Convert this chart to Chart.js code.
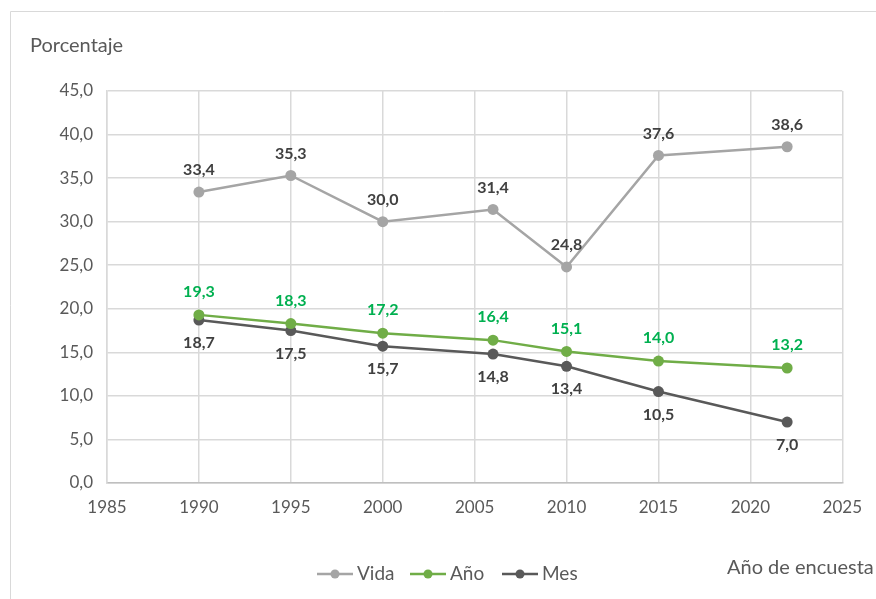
<!DOCTYPE html>
<html>
<head>
<meta charset="utf-8">
<script src="https://cdn.jsdelivr.net/npm/chart.js@4"></script>
<style>
  body { margin: 0; background: #fff; }
  #wrap { width: 876px; height: 599px; position: relative; }
</style>
</head>
<body>
<div id="wrap"><canvas id="grafico" width="876" height="599"></canvas></div>
<script>
const anios = [1990, 1995, 2000, 2006, 2010, 2015, 2022];
const vida = [33.4, 35.3, 30.0, 31.4, 24.8, 37.6, 38.6];
const anio = [19.3, 18.3, 17.2, 16.4, 15.1, 14.0, 13.2];
const mes = [18.7, 17.5, 15.7, 14.8, 13.4, 10.5, 7.0];
const nombres = ["Vida", "Año", "Mes"];

const FUENTE = "Lato, 'Open Sans', sans-serif";
const coma = (v) => v.toFixed(1).replace(".", ",");
const puntos = (vals) => anios.map((x, i) => ({ x: x, y: vals[i] }));

// etiquetas de datos, marco y leyenda dibujados a mano
const extras = {
  id: "extras",
  beforeDraw(chart) {
    const ctx = chart.ctx;
    ctx.save();
    ctx.strokeStyle = "#D9D9D9";
    ctx.lineWidth = 1;
    ctx.beginPath();
    ctx.moveTo(10.5, 599);
    ctx.lineTo(10.5, 11.5);
    ctx.lineTo(876, 11.5);
    ctx.stroke();
    ctx.restore();
  },
  afterDatasetsDraw(chart) {
    const ctx = chart.ctx;
    ctx.save();
    ctx.font = "bold 16px " + FUENTE;
    ctx.textAlign = "center";
    ctx.textBaseline = "middle";
    chart.data.datasets.forEach((ds, di) => {
      const meta = chart.getDatasetMeta(di);
      meta.data.forEach((p, i) => {
        ctx.fillStyle = ds.etiquetaColor;
        ctx.fillText(coma(ds.data[i].y), p.x, p.y + ds.etiquetaDy);
      });
    });

    // leyenda
    ctx.font = "19px " + FUENTE;
    ctx.textAlign = "left";
    const ly = 574;
    const lxs = [317, 410, 502];
    chart.data.datasets.forEach((ds, di) => {
      const lx = lxs[di];
      ctx.strokeStyle = ds.borderColor;
      ctx.lineWidth = 2.5;
      ctx.beginPath();
      ctx.moveTo(lx, ly);
      ctx.lineTo(lx + 36, ly);
      ctx.stroke();
      ctx.fillStyle = ds.borderColor;
      ctx.beginPath();
      ctx.arc(lx + 18, ly, 4.5, 0, Math.PI * 2);
      ctx.fill();
      ctx.fillStyle = "#595959";
      ctx.fillText(ds.label, lx + 40, ly);
    });

    ctx.font = "20px " + FUENTE;
    ctx.fillText("Porcentaje", 30, 46);
    ctx.fillText("Año de encuesta", 727, 568);
    ctx.restore();
  },
};

new Chart(document.getElementById("grafico"), {
  type: "line",
  data: {
    datasets: [
      {
        label: nombres[0],
        data: puntos(vida),
        borderColor: "#A5A5A5",
        backgroundColor: "#A5A5A5",
        etiquetaColor: "#404040",
        etiquetaDy: -22,
      },
      {
        label: nombres[1],
        data: puntos(anio),
        borderColor: "#70AD47",
        backgroundColor: "#70AD47",
        etiquetaColor: "#00B050",
        etiquetaDy: -23,
      },
      {
        label: nombres[2],
        data: puntos(mes),
        borderColor: "#595959",
        backgroundColor: "#595959",
        etiquetaColor: "#404040",
        etiquetaDy: 23,
      },
    ],
  },
  options: {
    responsive: false,
    animation: false,
    layout: { padding: { left: 0, top: 91, right: 33, bottom: 0 } },
    elements: {
      line: { borderWidth: 2.5, tension: 0 },
      point: { radius: 5.5, hoverRadius: 5.5, borderWidth: 0 },
    },
    plugins: { legend: { display: false }, tooltip: { enabled: false } },
    scales: {
      x: {
        type: "linear",
        min: 1985,
        max: 2025,
        afterFit: (s) => { s.height = 116; },
        ticks: {
          stepSize: 5,
          padding: 14,
          color: "#595959",
          font: { family: FUENTE, size: 17 },
          callback: (v) => String(v),
        },
        grid: { color: "#D9D9D9", lineWidth: 1.5, drawTicks: false },
        border: { color: "#BFBFBF", width: 1.5 },
      },
      y: {
        min: 0,
        max: 45,
        afterFit: (s) => { s.width = 107; },
        ticks: {
          stepSize: 5,
          padding: 14,
          color: "#595959",
          font: { family: FUENTE, size: 17 },
          callback: (v) => coma(v),
        },
        grid: { color: "#D9D9D9", lineWidth: 1.5, drawTicks: false },
        border: { color: "#D9D9D9", width: 1.5 },
      },
    },
  },
  plugins: [extras],
});
</script>
</body>
</html>
